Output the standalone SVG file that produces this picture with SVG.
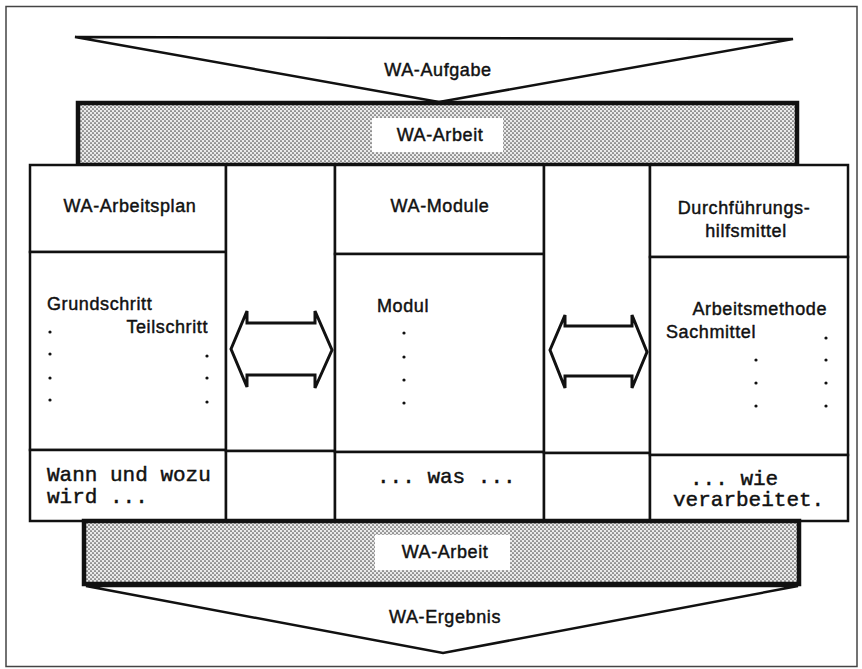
<svg xmlns="http://www.w3.org/2000/svg" width="862" height="669" viewBox="0 0 862 669">
<defs>
<pattern id="dots" width="4" height="4" patternUnits="userSpaceOnUse">
<rect width="4" height="4" fill="#ebebeb"/>
<circle cx="1" cy="1" r="0.85" fill="#4a4a4a"/>
<circle cx="3" cy="3" r="0.85" fill="#4a4a4a"/>
</pattern>
</defs>
<style>
.ln{fill:none;stroke:#111;stroke-width:2.5;stroke-linejoin:miter}
.box{fill:#fff;stroke:#111;stroke-width:2.5}
.bar{fill:url(#dots);stroke:#111;stroke-width:4.5}
.lbl{fill:#fff;stroke:none}
.sans{font-family:"Liberation Sans",Arial,sans-serif;font-size:18px;letter-spacing:0.6px;fill:#111;stroke:#111;stroke-width:0.45}
.mono{font-family:"Liberation Mono","Courier New",monospace;font-size:21px;fill:#111;stroke:#111;stroke-width:0.45}
.dot{fill:#111}
.arrow{fill:#fff;stroke:#111;stroke-width:3;stroke-linejoin:miter}
</style>
<rect width="862" height="669" fill="#fff"/>
<g id="frame"><rect x="6" y="6.5" width="851" height="660" fill="none" stroke="#444" stroke-width="1.5"/></g>

<g id="wa-aufgabe">
<path class="ln" d="M75,37 L793,39 L439,102 Z" stroke-width="3.2"/>
<text class="sans" x="438" y="76" text-anchor="middle">WA-Aufgabe</text>
</g>

<g id="wa-arbeit-top">
<rect class="bar" x="78" y="103" width="719" height="62"/>
<rect class="lbl" x="372" y="118" width="131" height="34"/>
<text class="sans" x="440" y="141" text-anchor="middle">WA-Arbeit</text>
</g>

<g id="col-arbeitsplan">
<rect class="box" x="30" y="165" width="196" height="87"/>
<rect class="box" x="30" y="252" width="196" height="198"/>
<rect class="box" x="30" y="450" width="196" height="71"/>
<text class="sans" x="130" y="212" text-anchor="middle">WA-Arbeitsplan</text>
<text class="sans" x="47" y="310">Grundschritt</text>
<text class="sans" x="208" y="333" text-anchor="end">Teilschritt</text>
<circle class="dot" cx="50" cy="332" r="1.6"/><circle class="dot" cx="50" cy="354" r="1.6"/><circle class="dot" cx="50" cy="378" r="1.6"/><circle class="dot" cx="50" cy="400" r="1.6"/>
<circle class="dot" cx="207" cy="356" r="1.6"/><circle class="dot" cx="207" cy="378" r="1.6"/><circle class="dot" cx="207" cy="402" r="1.6"/>
<text class="mono" x="47" y="481">Wann und wozu</text>
<text class="mono" x="47" y="503">wird ...</text>
</g>

<g id="gap-1">
<rect class="box" x="226" y="165" width="109" height="286"/>
<rect class="box" x="226" y="451" width="109" height="70"/>
</g>

<g id="col-module">
<rect class="box" x="335" y="165" width="209" height="89"/>
<rect class="box" x="335" y="254" width="209" height="198"/>
<rect class="box" x="335" y="452" width="209" height="69"/>
<text class="sans" x="440" y="212" text-anchor="middle">WA-Module</text>
<text class="sans" x="377" y="312">Modul</text>
<circle class="dot" cx="404" cy="333" r="1.6"/><circle class="dot" cx="404" cy="357" r="1.6"/><circle class="dot" cx="404" cy="380" r="1.6"/><circle class="dot" cx="404" cy="403" r="1.6"/>
<text class="mono" x="377" y="483">... was ...</text>
</g>

<g id="gap-2">
<rect class="box" x="544" y="165" width="106" height="288"/>
<rect class="box" x="544" y="453" width="106" height="68"/>
</g>

<g id="col-hilfsmittel">
<rect class="box" x="650" y="165" width="198" height="92"/>
<rect class="box" x="650" y="257" width="198" height="198"/>
<rect class="box" x="650" y="455" width="198" height="66"/>
<text class="sans" x="744" y="214" text-anchor="middle">Durchführungs-</text>
<text class="sans" x="746" y="237" text-anchor="middle">hilfsmittel</text>
<text class="sans" x="827" y="315" text-anchor="end">Arbeitsmethode</text>
<text class="sans" x="666" y="338">Sachmittel</text>
<circle class="dot" cx="826" cy="338" r="1.6"/><circle class="dot" cx="826" cy="360" r="1.6"/><circle class="dot" cx="826" cy="383" r="1.6"/><circle class="dot" cx="826" cy="406" r="1.6"/>
<circle class="dot" cx="756" cy="360" r="1.6"/><circle class="dot" cx="756" cy="383" r="1.6"/><circle class="dot" cx="756" cy="406" r="1.6"/>
<text class="mono" x="690" y="485">... wie</text>
<text class="mono" x="673" y="506">verarbeitet.</text>
</g>

<g id="connectors">
<path class="arrow" d="M231,349 L247,311 L247,323 L315,323 L315,311 L332,350 L315,388 L315,375 L247,375 L247,387 Z"/>
<path class="arrow" d="M550,350 L565,315 L565,326 L632,326 L632,315 L647,352 L632,388 L632,376 L565,376 L565,388 Z"/>
</g>

<g id="wa-arbeit-bottom">
<rect class="bar" x="84" y="521" width="715" height="63"/>
<rect class="lbl" x="375" y="535" width="135" height="35"/>
<text class="sans" x="445" y="558" text-anchor="middle">WA-Arbeit</text>
</g>

<g id="wa-ergebnis">
<path class="ln" d="M86,586 L798,586 L443,653 Z"/>
<text class="sans" x="445" y="623" text-anchor="middle">WA-Ergebnis</text>
</g>
</svg>
